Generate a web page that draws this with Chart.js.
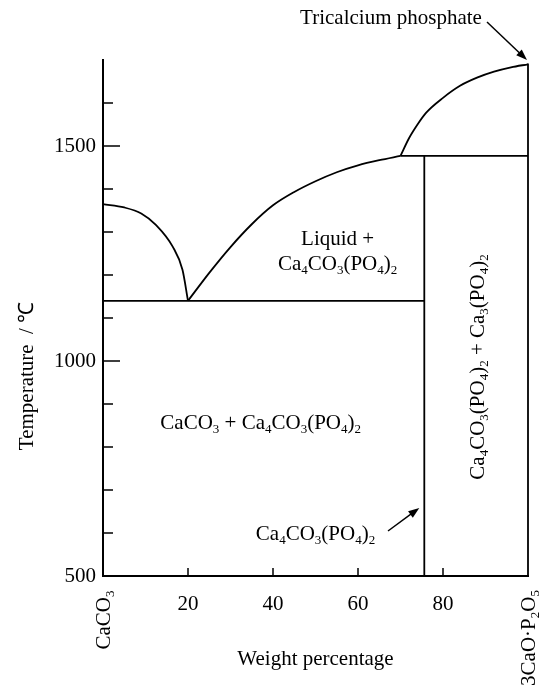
<!DOCTYPE html>
<html>
<head>
<meta charset="utf-8">
<script src="https://cdn.jsdelivr.net/npm/chart.js@4.4.1/dist/chart.umd.min.js"></script>
<style>
    html, body { margin: 0; padding: 0; background: #fff; }
    #wrap { width: 544px; height: 685px; }
</style>
</head>
<body>
<div id="wrap"><canvas id="phaseChart"></canvas></div>
<script>
// ==========================================
// DATA (weight % of 3CaO·P2O5, temperature °C)
// ==========================================

const leftLiquidusX = [0, 5, 9, 12.5, 16.4, 18.7, 20];
const leftLiquidusT = [1365, 1357, 1343, 1316, 1266, 1212, 1140];

const rightLiquidusX = [20, 25, 30, 35, 40, 45, 50, 55, 60, 65, 70];
const rightLiquidusT = [1140, 1205, 1265, 1318, 1362, 1393, 1418, 1439, 1455, 1467, 1477];

const upperLiquidusX = [70, 72, 74, 76, 80, 84, 88, 92, 96, 100];
const upperLiquidusT = [1477, 1518, 1550, 1577, 1612, 1640, 1659, 1673, 1683, 1690];

const eutecticX = [0, 75.6];
const eutecticT = [1140, 1140];

const peritecticX = [70, 100];
const peritecticT = [1477, 1477];

const compoundX = [75.6, 75.6];
const compoundT = [500, 1477];

const rightEdgeX = [100, 100];
const rightEdgeT = [500, 1692];

const xTickValues = [20, 40, 60, 80];
const yMajorTicks = [500, 1000, 1500];
const yMinorTicks = [600, 700, 800, 900, 1100, 1200, 1300, 1400, 1600];

const SERIF = "'Liberation Serif', 'Times New Roman', serif";

function toPoints(xs, ys) {
    return xs.map((x, i) => ({ x: x, y: ys[i] }));
}

function lineSet(xs, ys, smooth) {
    return {
        data: toPoints(xs, ys),
        showLine: true,
        borderColor: "#000",
        borderWidth: 1.8,
        pointRadius: 0,
        cubicInterpolationMode: smooth ? "monotone" : "default",
        clip: false,
    };
}

// ==========================================
// TEXT HELPERS (subscripts written as _4)
// ==========================================

function parseRuns(str) {
    const runs = [];
    const re = /_(\d)/g;
    let last = 0, m;
    while ((m = re.exec(str)) !== null) {
        if (m.index > last) runs.push({ t: str.slice(last, m.index), sub: false });
        runs.push({ t: m[1], sub: true });
        last = re.lastIndex;
    }
    if (last < str.length) runs.push({ t: str.slice(last), sub: false });
    return runs;
}

function drawRich(ctx, str, x, y, size) {
    const runs = parseRuns(str);
    const subSize = Math.round(size * 0.62);
    let width = 0;
    runs.forEach(r => {
        ctx.font = (r.sub ? subSize : size) + "px " + SERIF;
        r.w = ctx.measureText(r.t).width;
        width += r.w;
    });
    let cx = x - width / 2;
    ctx.textAlign = "left";
    ctx.textBaseline = "alphabetic";
    runs.forEach(r => {
        ctx.font = (r.sub ? subSize : size) + "px " + SERIF;
        ctx.fillText(r.t, cx, y + size * 0.35 + (r.sub ? size * 0.18 : 0));
        cx += r.w;
    });
}

function drawRotated(ctx, str, x, y, size) {
    ctx.save();
    ctx.translate(x, y);
    ctx.rotate(-Math.PI / 2);
    drawRich(ctx, str, 0, 0, size);
    ctx.restore();
}

function drawArrow(ctx, x1, y1, x2, y2) {
    const ang = Math.atan2(y2 - y1, x2 - x1);
    const len = 11, half = 4;
    ctx.beginPath();
    ctx.moveTo(x1, y1);
    ctx.lineTo(x2 - Math.cos(ang) * len * 0.8, y2 - Math.sin(ang) * len * 0.8);
    ctx.stroke();
    ctx.beginPath();
    ctx.moveTo(x2, y2);
    ctx.lineTo(x2 - Math.cos(ang) * len - Math.sin(ang) * half, y2 - Math.sin(ang) * len + Math.cos(ang) * half);
    ctx.lineTo(x2 - Math.cos(ang) * len + Math.sin(ang) * half, y2 - Math.sin(ang) * len - Math.cos(ang) * half);
    ctx.closePath();
    ctx.fill();
}

// ==========================================
// ANNOTATION PLUGIN
// ==========================================

const phaseDecor = {
    id: "phaseDecor",
    afterDraw(chart) {
        const ctx = chart.ctx;
        const xs = chart.scales.x;
        const ys = chart.scales.y;
        const left = xs.getPixelForValue(0);
        const bottom = ys.getPixelForValue(500);

        ctx.save();
        ctx.strokeStyle = "#000";
        ctx.fillStyle = "#000";
        ctx.lineWidth = 1.5;

        // inward ticks
        ctx.beginPath();
        yMajorTicks.forEach(v => {
            if (v === 500) return;
            const p = ys.getPixelForValue(v);
            ctx.moveTo(left, p);
            ctx.lineTo(left + 17, p);
        });
        yMinorTicks.forEach(v => {
            const p = ys.getPixelForValue(v);
            ctx.moveTo(left, p);
            ctx.lineTo(left + 10, p);
        });
        xTickValues.forEach(v => {
            const p = xs.getPixelForValue(v);
            ctx.moveTo(p, bottom);
            ctx.lineTo(p, bottom - 8);
        });
        ctx.stroke();

        // axis titles
        ctx.font = "21px " + SERIF;
        ctx.textAlign = "center";
        ctx.textBaseline = "middle";
        ctx.fillText("Weight percentage", xs.getPixelForValue(50), 659);
        ctx.save();
        ctx.translate(27, 376);
        ctx.rotate(-Math.PI / 2);
        ctx.fillText("Temperature  / \u2103", 0, 0);
        ctx.restore();

        // end components on the x axis
        drawRotated(ctx, "CaCO_3", left, 620, 21);
        drawRotated(ctx, "3CaO\u00b7P_2O_5", xs.getPixelForValue(100), 638, 21);

        // phase field labels
        drawRich(ctx, "Liquid +", xs.getPixelForValue(55.2), 238, 21);
        drawRich(ctx, "Ca_4CO_3(PO_4)_2", xs.getPixelForValue(55.2), 263, 21);
        drawRich(ctx, "CaCO_3 + Ca_4CO_3(PO_4)_2", xs.getPixelForValue(37.1), 422, 21);
        drawRotated(ctx, "Ca_4CO_3(PO_4)_2 + Ca_3(PO_4)_2", xs.getPixelForValue(87.9), 367, 21);
        drawRich(ctx, "Ca_4CO_3(PO_4)_2", xs.getPixelForValue(50), 533, 21);
        drawRich(ctx, "Tricalcium phosphate", 391, 17, 21);

        // arrows
        ctx.lineWidth = 1.5;
        drawArrow(ctx, 388, 531, xs.getPixelForValue(75.6) - 5, 508);
        drawArrow(ctx, 487, 22, xs.getPixelForValue(100) - 1, 60);

        ctx.restore();
    }
};

// ==========================================
// CHART
// ==========================================

const canvas = document.getElementById("phaseChart");

new Chart(canvas, {

    type: "scatter",

    data: {
        datasets: [
            lineSet(leftLiquidusX, leftLiquidusT, true),
            lineSet(rightLiquidusX, rightLiquidusT, true),
            lineSet(upperLiquidusX, upperLiquidusT, true),
            lineSet(eutecticX, eutecticT, false),
            lineSet(peritecticX, peritecticT, false),
            lineSet(compoundX, compoundT, false),
            lineSet(rightEdgeX, rightEdgeT, false),
        ]
    },

    options: {
        responsive: true,
        maintainAspectRatio: false,
        animation: false,
        events: [],
        layout: {
            padding: { top: 60, right: 11, left: 0, bottom: 0 }
        },
        plugins: {
            legend: { display: false },
            tooltip: { enabled: false },
        },
        scales: {
            x: {
                type: "linear",
                min: 0,
                max: 100,
                afterFit: scale => { scale.height = 109; },
                afterBuildTicks: scale => {
                    scale.ticks = [0].concat(xTickValues, [100]).map(v => ({ value: v }));
                },
                ticks: {
                    autoSkip: false,
                    maxRotation: 0,
                    padding: 16,
                    color: "#000",
                    font: { family: SERIF, size: 21 },
                    callback: v => (xTickValues.includes(v) ? String(v) : ""),
                },
                grid: { display: false, drawTicks: false },
                border: { display: true, color: "#000", width: 2 },
            },
            y: {
                type: "linear",
                min: 500,
                max: 1700,
                afterFit: scale => { scale.width = 103; },
                afterBuildTicks: scale => {
                    scale.ticks = yMajorTicks.map(v => ({ value: v }));
                },
                ticks: {
                    autoSkip: false,
                    padding: 7,
                    color: "#000",
                    font: { family: SERIF, size: 21 },
                    callback: v => String(v),
                },
                grid: { display: false, drawTicks: false },
                border: { display: true, color: "#000", width: 2 },
            }
        }
    },

    plugins: [phaseDecor]

});
</script>
</body>
</html>
